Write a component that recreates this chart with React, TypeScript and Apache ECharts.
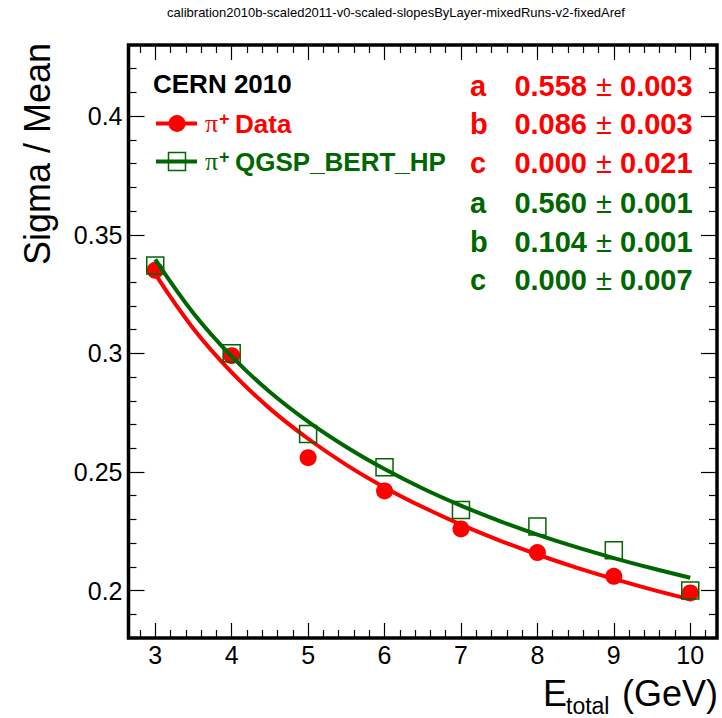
import React, { useEffect, useRef } from "react";
import * as echarts from "echarts";

// ---------- data ----------
const energies = [3, 4, 5, 6, 7, 8, 9, 10];
const dataValues = [0.335, 0.299, 0.256, 0.242, 0.226, 0.216, 0.206, 0.199];
const mcValues = [0.337, 0.300, 0.266, 0.252, 0.234, 0.227, 0.217, 0.200];

// fit curves
const fitEnergies = [3, 3.5, 4, 4.5, 5, 5.5, 6, 6.5, 7, 7.5, 8, 8.5, 9, 9.5, 10];
const dataFit = [0.3334, 0.3104, 0.292, 0.2767, 0.264, 0.253, 0.2435, 0.2352, 0.2278, 0.2212, 0.2152, 0.2098, 0.2049, 0.2004, 0.1963];
const mcFit = [0.3396, 0.3169, 0.2987, 0.2837, 0.2712, 0.2605, 0.2512, 0.243, 0.2358, 0.2294, 0.2236, 0.2184, 0.2137, 0.2094, 0.2054];

// fit parameter texts
const paramNames = ["a", "b", "c"];
const dataParams = ["0.558", "0.086", "0.000"];
const dataErrors = ["0.003", "0.003", "0.021"];
const mcParams = ["0.560", "0.104", "0.000"];
const mcErrors = ["0.001", "0.001", "0.007"];

// axis ticks
const xMin = 2.65;
const xMax = 10.35;
const yMin = 0.18;
const yMax = 0.43;
const xMajorTicks = [3, 4, 5, 6, 7, 8, 9, 10];
const xMinorTicks = [2.8, 3.2, 3.4, 3.6, 3.8, 4.2, 4.4, 4.6, 4.8, 5.2, 5.4, 5.6, 5.8, 6.2, 6.4, 6.6, 6.8, 7.2, 7.4, 7.6, 7.8, 8.2, 8.4, 8.6, 8.8, 9.2, 9.4, 9.6, 9.8, 10.2];
const yMajorTicks = [0.2, 0.25, 0.3, 0.35, 0.4];
const yMinorTicks = [0.19, 0.21, 0.22, 0.23, 0.24, 0.26, 0.27, 0.28, 0.29, 0.31, 0.32, 0.33, 0.34, 0.36, 0.37, 0.38, 0.39, 0.41, 0.42];

const chartTitle = "calibration2010b-scaled2011-v0-scaled-slopesByLayer-mixedRuns-v2-fixedAref";

const RED = "#ff0000";
const GREEN = "#006600";
const FONT = "Liberation Sans, Arial, Helvetica, sans-serif";
const SERIF = "Liberation Serif, DejaVu Serif, serif";

function xAxisDef(position: "bottom" | "top", ticks: number[], len: number, labels: boolean) {
  return {
    type: "value",
    position,
    min: xMin,
    max: xMax,
    axisLine: { show: false, onZero: false },
    splitLine: { show: false },
    axisTick: {
      show: true,
      inside: true,
      length: len,
      customValues: ticks,
      lineStyle: { color: "#000", width: 1.2 },
    },
    axisLabel: labels
      ? { show: true, customValues: ticks, fontSize: 25, color: "#000", fontFamily: FONT, margin: 4 }
      : { show: false },
  };
}

function yAxisDef(position: "left" | "right", ticks: number[], len: number, labels: boolean) {
  return {
    type: "value",
    position,
    min: yMin,
    max: yMax,
    axisLine: { show: false, onZero: false },
    splitLine: { show: false },
    axisTick: {
      show: true,
      inside: true,
      length: len,
      customValues: ticks,
      lineStyle: { color: "#000", width: 1.2 },
    },
    axisLabel: labels
      ? { show: true, customValues: ticks, fontSize: 25, color: "#000", fontFamily: FONT, margin: 6 }
      : { show: false },
  };
}

function buildGraphics() {
  const g: any[] = [];
  // title
  g.push({
    type: "text", x: 396, y: 12,
    style: { text: chartTitle, font: `13px ${FONT}`, fill: "#000", align: "center", verticalAlign: "middle" },
  });
  // y axis title
  g.push({
    type: "text", x: 37.5, y: 43, rotation: Math.PI / 2,
    style: { text: "Sigma / Mean", font: `36px ${FONT}`, fill: "#000", align: "right", verticalAlign: "middle" },
  });
  // x axis title
  g.push({
    type: "text", x: 543, y: 693.5,
    style: { text: "E", font: `36px ${FONT}`, fill: "#000", align: "left", verticalAlign: "middle" },
  });
  g.push({
    type: "text", x: 566, y: 706,
    style: { text: "total", font: `23px ${FONT}`, fill: "#000", align: "left", verticalAlign: "middle" },
  });
  g.push({
    type: "text", x: 718, y: 693.5,
    style: { text: "(GeV)", font: `36px ${FONT}`, fill: "#000", align: "right", verticalAlign: "middle" },
  });
  // legend
  g.push({
    type: "text", x: 153, y: 84,
    style: { text: "CERN 2010", font: `bold 26px ${FONT}`, fill: "#000", align: "left", verticalAlign: "middle" },
  });
  const legendRows = [
    { y: 123.5, color: RED, label: "Data", marker: "circle" },
    { y: 161.5, color: GREEN, label: "QGSP_BERT_HP", marker: "rect" },
  ];
  legendRows.forEach((r) => {
    g.push({ type: "line", shape: { x1: 156, y1: r.y, x2: 197, y2: r.y }, style: { stroke: r.color, lineWidth: 4 } });
    if (r.marker === "circle") {
      g.push({ type: "circle", shape: { cx: 177, cy: r.y, r: 8.5 }, style: { fill: r.color } });
    } else {
      g.push({ type: "rect", shape: { x: 168.5, y: r.y - 9, width: 17, height: 18 }, style: { fill: "none", stroke: r.color, lineWidth: 1.5 } });
    }
    g.push({
      type: "text", x: 205, y: r.y + 0,
      style: { text: "π", font: `26px ${SERIF}`, fill: r.color, align: "left", verticalAlign: "middle" },
    });
    g.push({
      type: "text", x: 219, y: r.y - 5,
      style: { text: "+", font: `bold 18px ${FONT}`, fill: r.color, align: "left", verticalAlign: "middle" },
    });
    g.push({
      type: "text", x: 235, y: r.y + 0.5,
      style: { text: r.label, font: `bold 26px ${FONT}`, fill: r.color, align: "left", verticalAlign: "middle" },
    });
  });
  // fit parameters
  const rowsY = [85.5, 123.5, 162.5, 203, 241.5, 279.5];
  const rows = [
    ...paramNames.map((n, i) => ({ n, v: dataParams[i], e: dataErrors[i], c: RED })),
    ...paramNames.map((n, i) => ({ n, v: mcParams[i], e: mcErrors[i], c: GREEN })),
  ];
  rows.forEach((r, i) => {
    const y = rowsY[i];
    g.push({ type: "text", x: 470, y, style: { text: r.n, font: `bold 29px ${FONT}`, fill: r.c, align: "left", verticalAlign: "middle" } });
    g.push({ type: "text", x: 587, y, style: { text: r.v, font: `bold 29px ${FONT}`, fill: r.c, align: "right", verticalAlign: "middle" } });
    g.push({ type: "text", x: 604, y, style: { text: "±", font: `29px ${FONT}`, fill: r.c, align: "center", verticalAlign: "middle" } });
    g.push({ type: "text", x: 620, y, style: { text: r.e, font: `bold 29px ${FONT}`, fill: r.c, align: "left", verticalAlign: "middle" } });
  });
  return g;
}

export default function App() {
  const ref = useRef<HTMLDivElement>(null);
  useEffect(() => {
    if (!ref.current) return;
    const chart = echarts.init(ref.current, null, { renderer: "svg" });
    const option: any = {
      animation: false,
      backgroundColor: "#fff",
      grid: {
        left: 128.5,
        top: 45,
        right: 5,
        bottom: 80,
        show: true,
        borderColor: "#000",
        borderWidth: 3.5,
        backgroundColor: "transparent",
        containLabel: false,
      },
      xAxis: [
        xAxisDef("bottom", xMajorTicks, 15, true),
        xAxisDef("bottom", xMinorTicks, 8, false),
        xAxisDef("top", xMajorTicks, 15, false),
        xAxisDef("top", xMinorTicks, 8, false),
      ],
      yAxis: [
        yAxisDef("left", yMajorTicks, 16, true),
        yAxisDef("left", yMinorTicks, 8, false),
        yAxisDef("right", yMajorTicks, 16, false),
        yAxisDef("right", yMinorTicks, 8, false),
      ],
      series: [
        {
          type: "line",
          name: "data fit",
          xAxisIndex: 0,
          yAxisIndex: 0,
          data: fitEnergies.map((e, i) => [e, dataFit[i]]),
          smooth: 0.4,
          showSymbol: false,
          symbol: "none",
          lineStyle: { color: RED, width: 4 },
          z: 2,
        },
        {
          type: "scatter",
          name: "π+ Data",
          xAxisIndex: 0,
          yAxisIndex: 0,
          data: energies.map((e, i) => [e, dataValues[i]]),
          symbol: "circle",
          symbolSize: 17,
          itemStyle: { color: RED, opacity: 1 },
          z: 3,
        },
        {
          type: "line",
          name: "mc fit",
          xAxisIndex: 0,
          yAxisIndex: 0,
          data: fitEnergies.map((e, i) => [e, mcFit[i]]),
          smooth: 0.4,
          showSymbol: false,
          symbol: "none",
          lineStyle: { color: GREEN, width: 4 },
          z: 4,
        },
        {
          type: "scatter",
          name: "π+ QGSP_BERT_HP",
          xAxisIndex: 0,
          yAxisIndex: 0,
          data: energies.map((e, i) => [e, mcValues[i]]),
          symbol: "rect",
          symbolSize: 17,
          itemStyle: { color: "rgba(0,0,0,0)", borderColor: GREEN, borderWidth: 1.5, opacity: 1 },
          z: 5,
        },
      ],
      graphic: buildGraphics(),
    };
    chart.setOption(option);
    return () => chart.dispose();
  }, []);
  return (
    <div
      ref={ref}
      style={{ position: "absolute", left: 0, top: 0, width: 722, height: 718, background: "#fff" }}
    />
  );
}
